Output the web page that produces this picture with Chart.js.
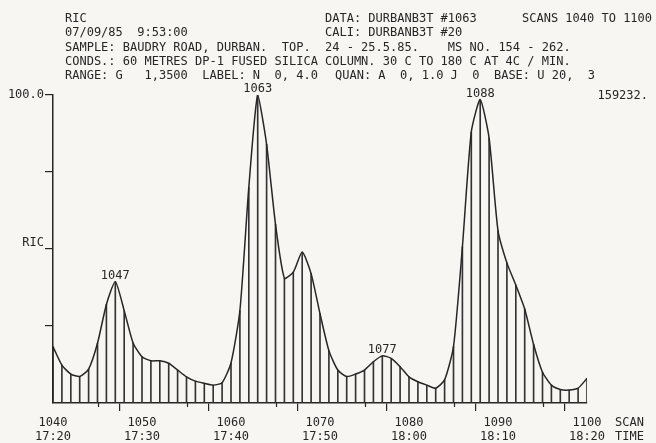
<!DOCTYPE html>
<html>
<head>
<meta charset="utf-8">
<script src="https://cdn.jsdelivr.net/npm/chart.js@4/dist/chart.umd.min.js"></script>
<style>
  html, body { margin: 0; padding: 0; background: #f7f6f2; }
  canvas { display: block; }
</style>
</head>
<body>
<canvas id="ricChart" width="656" height="443"></canvas>
<script>
// scan numbers and reconstructed ion current (% of largest peak)
const scans = [1040, 1041, 1042, 1043, 1044, 1045, 1046, 1047, 1048, 1049,
  1050, 1051, 1052, 1053, 1054, 1055, 1056, 1057, 1058, 1059,
  1060, 1061, 1062, 1063, 1064, 1065, 1066, 1067, 1068, 1069,
  1070, 1071, 1072, 1073, 1074, 1075, 1076, 1077, 1078, 1079,
  1080, 1081, 1082, 1083, 1084, 1085, 1086, 1087, 1088, 1089,
  1090, 1091, 1092, 1093, 1094, 1095, 1096, 1097, 1098, 1099, 1100];
const ric = [18.3, 12.3, 9.4, 8.6, 11, 19.4, 32, 39.4, 30, 19.5,
  15, 13.7, 13.7, 12.9, 10.7, 8.5, 7.1, 6.4, 5.8, 6.6,
  13, 30, 70, 100, 84, 58, 40.5, 42.5, 49, 42,
  29, 17, 10.7, 8.6, 9.4, 10.7, 13.4, 15.3, 14.5, 11.8,
  8.5, 6.9, 5.8, 4.8, 7.5, 18.3, 50.7, 88, 98.5, 86,
  56, 45.5, 38.3, 30.5, 19, 10, 5.8, 4.4, 4.2, 4.8, 8];

// axis labels
const xTickScans = [1040, 1050, 1060, 1070, 1080, 1090, 1100];
const xTickTimes = ['17:20', '17:30', '17:40', '17:50', '18:00', '18:10', '18:20'];
const peakScans = [1047, 1063, 1077, 1088];

// printout header, [x, text] per line
const headerLines = [
  [[65, 'RIC'], [325, 'DATA: DURBANB3T #1063'], [522, 'SCANS 1040 TO 1100']],
  [[65, '07/09/85  9:53:00'], [325, 'CALI: DURBANB3T #20']],
  [[65, 'SAMPLE: BAUDRY ROAD, DURBAN.  TOP.'], [325, '24 - 25.5.85.    MS NO. 154 - 262.']],
  [[65, 'CONDS.: 60 METRES DP-1 FUSED SILICA'], [325, 'COLUMN. 30 C TO 180 C AT 4C / MIN.']],
  [[65, 'RANGE: G   1,3500  LABEL: N  0, 4.0'], [335, 'QUAN: A  0, 1.0 J  0  BASE: U 20,  3']]
];
const headerY = [19, 33, 47.5, 62, 76];

const ink = '#262626';
const mono = '"DejaVu Sans Mono", "Liberation Mono", monospace';
const points = scans.map((s, i) => ({ x: s, y: ric[i] }));

const printout = {
  id: 'printout',
  beforeDraw(chart) {
    const c = chart.ctx;
    c.save();
    c.fillStyle = '#f7f6f2';
    c.fillRect(0, 0, chart.width, chart.height);
    c.restore();
  },
  afterDraw(chart) {
    const c = chart.ctx;
    const xs = chart.scales.x, ys = chart.scales.y;
    c.save();
    c.fillStyle = ink;
    c.strokeStyle = ink;
    c.font = '12px ' + mono;
    c.textBaseline = 'middle';
    c.textAlign = 'left';
    headerLines.forEach((line, i) => {
      line.forEach(([x, t]) => c.fillText(t, x, headerY[i]));
    });

    // peak scan numbers
    c.textAlign = 'center';
    c.textBaseline = 'alphabetic';
    peakScans.forEach(s => {
      const v = ric[scans.indexOf(s)];
      c.fillText(String(s), xs.getPixelForValue(s), ys.getPixelForValue(v) - 3);
    });

    // full-scale count
    c.textAlign = 'right';
    c.textBaseline = 'middle';
    c.fillText('159232.', 648, 96);

    // axis names at right end
    c.textAlign = 'left';
    c.fillText('SCAN', 615, 423);
    c.fillText('TIME', 615, 437);

    // short minor ticks at the 5s
    c.lineWidth = 1.2;
    c.beginPath();
    for (let s = 1045; s < 1100; s += 10) {
      const x = Math.round(xs.getPixelForValue(s)) + 0.5;
      c.moveTo(x, xs.top);
      c.lineTo(x, xs.top + 4);
    }
    c.stroke();
    c.restore();
  }
};

new Chart(document.getElementById('ricChart').getContext('2d'), {
  data: {
    datasets: [
      {
        type: 'line',
        data: points,
        borderColor: ink,
        borderWidth: 1.5,
        pointRadius: 0,
        fill: false,
        tension: 0.2,
        order: 0
      },
      {
        type: 'bar',
        data: points,
        backgroundColor: '#333333',
        borderWidth: 0,
        barThickness: 1,
        order: 1
      }
    ]
  },
  options: {
    responsive: false,
    animation: false,
    layout: { padding: { top: 95, right: 69, bottom: 0, left: 0 } },
    plugins: {
      legend: { display: false },
      tooltip: { enabled: false }
    },
    scales: {
      x: {
        type: 'linear',
        min: 1040,
        max: 1100,
        offset: false,
        ticks: {
          stepSize: 5,
          autoSkip: false,
          maxRotation: 0,
          padding: 5,
          color: ink,
          font: { family: mono, size: 12, lineHeight: 1.15 },
          callback: v => {
            const i = xTickScans.indexOf(v);
            return i >= 0 ? [String(v), xTickTimes[i]] : '';
          }
        },
        grid: {
          drawOnChartArea: false,
          tickLength: 8,
          lineWidth: 1.2,
          tickColor: ctx => (ctx.tick && xTickScans.includes(ctx.tick.value)) ? ink : 'rgba(0,0,0,0)'
        },
        border: { color: ink, width: 1.5 },
        afterFit: s => { s.height = 40; }
      },
      y: {
        min: 0,
        max: 100,
        ticks: {
          stepSize: 25,
          padding: 1,
          color: ink,
          font: { family: mono, size: 12, lineHeight: 1.0 },
          callback: v => v === 100 ? '100.0' : (v === 50 ? ['RIC', ''] : '')
        },
        grid: {
          drawOnChartArea: false,
          tickLength: 8,
          lineWidth: 1.2,
          tickColor: ctx => (ctx.tick && ctx.tick.value === 0) ? 'rgba(0,0,0,0)' : ink
        },
        border: { color: ink, width: 1.5 },
        afterFit: s => { s.width = 53; }
      }
    }
  },
  plugins: [printout]
});
</script>
</body>
</html>
